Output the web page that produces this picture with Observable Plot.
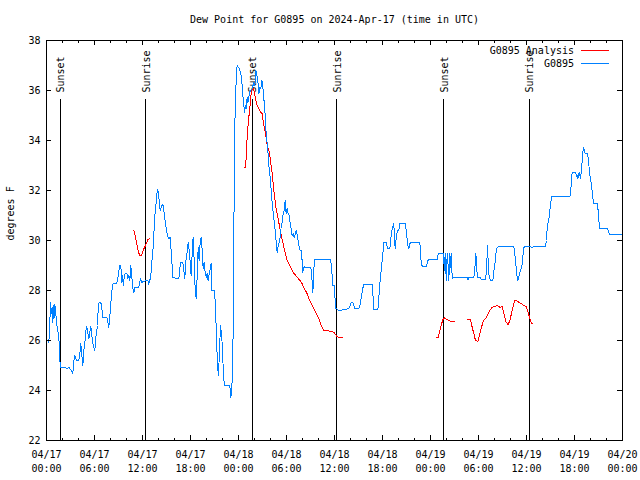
<!DOCTYPE html>
<html><head><meta charset="utf-8">
<script src="https://cdn.jsdelivr.net/npm/d3@7"></script>
<script src="https://cdn.jsdelivr.net/npm/@observablehq/plot@0.6"></script>
<style>
body{margin:0;background:#fff;}
#wrap{position:relative;width:640px;height:480px;font-family:"DejaVu Sans Mono",monospace;font-size:10px;color:#000;}
.lt{position:absolute;right:66px;height:12px;line-height:12px;white-space:pre;}
.ll{position:absolute;left:581px;width:28px;height:0;}
</style></head><body><div id="wrap"></div>
<script>
// Hours since 2024-04-17 00:00 UTC
const obsHours = [0.29,0.375,0.5,0.625,0.71,0.79,0.92,0.96,1.04,1.21,1.33,1.46,1.625,1.67,1.75,2.375,2.5,2.79,3.08,3.29,3.42,3.54,3.75,4.04,4.17,4.29,4.54,4.67,4.79,4.92,5.04,5.29,5.42,5.54,5.79,6.04,6.17,6.375,6.46,6.58,6.79,6.92,7.04,7.54,7.67,7.79,7.875,8.0,8.08,8.21,8.33,8.79,8.92,9.04,9.17,9.29,9.42,9.54,9.58,9.71,9.83,10.04,10.17,10.29,10.42,10.54,10.67,10.79,10.92,11.04,11.54,11.75,11.92,12.42,12.67,12.79,12.875,13.0,13.125,13.25,13.375,13.5,13.67,13.79,13.92,14.08,14.21,14.42,14.54,14.67,14.83,15.0,15.125,15.25,15.46,15.58,15.79,16.25,16.54,16.75,17.04,17.17,17.29,17.42,17.58,17.71,17.83,17.96,18.08,18.21,18.33,18.46,18.58,18.71,18.83,18.96,19.08,19.21,19.33,19.46,19.58,19.71,19.83,19.96,20.08,20.21,20.33,20.46,20.58,20.67,21.0,21.125,21.25,21.375,21.5,21.625,21.75,21.875,22.0,22.125,22.25,22.83,22.96,23.04,23.125,23.25,23.375,23.46,23.58,23.71,23.83,24.125,24.33,24.46,24.58,24.67,24.75,24.875,24.96,25.08,25.17,25.29,25.375,25.71,25.92,26.04,26.17,26.29,26.42,26.54,26.67,26.79,26.92,27.04,27.125,27.25,27.375,27.5,27.625,27.71,27.83,28.0,28.125,28.25,28.375,28.5,28.625,28.75,28.83,28.96,29.08,29.21,29.33,29.46,29.58,29.71,29.83,29.96,30.08,30.21,30.33,30.46,30.58,30.71,30.83,30.96,31.04,31.125,31.25,31.375,31.5,31.625,31.75,31.875,31.96,32.04,32.17,32.29,32.42,33.0,33.125,33.21,33.29,33.375,33.46,33.54,35.5,35.625,35.71,35.79,35.96,36.04,36.17,36.25,36.54,37.79,37.92,38.08,38.29,38.42,38.54,39.04,39.17,39.33,39.5,39.625,40.71,40.83,40.92,41.42,41.54,41.67,41.83,41.96,42.08,42.17,42.5,42.625,42.92,43.04,43.17,43.29,43.42,43.5,43.625,43.71,43.875,44.04,44.17,44.875,45.0,45.17,45.29,45.42,45.58,46.67,46.79,46.96,47.5,47.67,47.79,48.83,48.96,49.58,49.67,49.75,49.83,49.92,50.0,50.08,50.21,50.29,50.42,50.54,50.625,50.71,50.79,50.92,52.58,52.67,52.79,53.42,53.54,53.67,53.79,53.92,54.25,54.375,54.875,55.0,55.125,55.25,55.375,55.58,55.79,55.92,56.04,56.17,56.33,56.54,58.42,58.54,58.67,58.79,58.92,59.04,59.17,59.33,59.46,59.58,59.67,59.875,60.5,60.625,61.125,62.375,62.5,62.58,62.71,62.875,63.0,63.17,65.42,65.54,65.625,65.71,66.125,66.25,66.375,66.46,66.54,66.67,66.75,66.875,67.0,67.125,67.25,67.33,67.625,67.75,67.875,68.0,68.125,68.29,68.375,68.83,68.96,69.04,69.17,70.17,70.25,70.42,72.0];
const obsDewF = [25.93,26.33,27.53,27.07,27.33,26.73,27.4,26.93,27.44,26.93,26.53,26.31,25.8,25.2,24.93,24.93,24.87,24.93,24.8,24.67,25.2,25.4,25.2,25.2,25.47,25.87,25.0,25.6,25.87,26.4,26.56,26.07,26.33,26.56,25.87,25.6,26.13,26.6,27.23,27.53,27.53,27.27,26.93,26.93,26.73,26.53,26.8,27.27,27.67,28.07,28.29,28.29,28.47,28.8,29.0,29.0,28.33,28.6,28.2,28.53,28.69,28.69,28.47,28.6,28.4,29.0,28.53,28.07,27.93,28.13,28.13,28.47,28.33,28.4,28.4,28.24,28.4,28.47,28.93,29.47,29.87,30.87,31.4,31.87,32.03,31.6,31.2,31.4,31.44,31.2,30.8,30.4,30.2,30.07,30.13,29.6,28.53,28.47,28.47,29.13,29.13,28.8,28.47,29.2,29.53,29.93,29.6,29.13,28.6,29.47,30.13,29.2,28.07,27.67,28.53,29.73,29.2,29.93,30.13,29.6,28.87,29.13,28.73,28.53,28.67,28.4,28.67,28.87,29.07,28.0,28.0,27.33,26.13,25.0,24.6,25.6,26.6,26.27,25.67,24.53,24.2,24.2,24.07,23.73,23.93,24.67,27.4,32.27,35.27,36.4,37.0,36.87,36.6,36.2,35.67,35.4,35.13,35.4,35.27,35.73,35.53,35.73,35.93,36.07,36.33,36.2,36.8,36.6,36.4,35.87,36.13,36.07,36.4,36.2,35.67,35.53,34.73,34.07,33.8,33.4,32.87,32.4,31.8,31.4,31.0,30.67,30.27,29.8,29.53,29.8,29.93,30.13,30.53,30.73,31.07,31.2,31.6,31.07,31.27,31.07,31.0,30.67,30.47,30.2,30.27,30.13,30.2,30.33,30.4,30.13,29.93,29.67,29.6,29.6,29.13,28.73,28.91,28.96,28.91,28.91,28.8,28.27,27.93,28.4,29.13,29.23,29.23,29.0,28.53,28.2,28.2,27.8,27.27,27.27,27.2,27.27,27.36,27.53,27.53,27.4,27.27,27.27,27.4,27.67,28.0,28.23,28.23,27.73,27.23,27.23,27.73,28.27,28.8,29.2,29.6,29.93,29.93,29.67,29.67,30.07,30.4,30.53,30.67,29.93,29.67,30.13,30.4,30.4,30.67,30.67,30.27,29.8,29.67,29.87,29.93,29.93,29.27,28.96,28.96,29.2,29.23,29.23,29.47,29.47,29.13,28.8,29.47,28.73,28.4,29.47,29.0,28.4,29.47,28.93,29.47,28.47,28.53,28.51,28.51,28.43,28.51,28.51,28.87,29.47,28.8,28.51,28.51,28.43,28.43,28.8,29.8,28.8,28.47,28.4,28.4,28.8,29.0,29.47,29.73,29.76,29.76,29.47,29.07,28.6,28.4,28.53,28.73,28.87,29.07,29.47,29.73,29.76,29.76,29.73,29.76,29.76,30.0,30.47,30.73,31.0,31.47,31.76,31.76,32.0,32.47,32.73,32.73,32.6,32.47,32.67,32.53,32.73,32.47,32.8,33.4,33.73,33.6,33.47,33.47,33.2,32.73,32.47,32.2,31.73,31.47,31.47,31.2,30.8,30.47,30.47,30.33,30.24,30.24];

// Analysis (NaN separates segments)
const anaHours = [10.92,11.125,11.33,11.5,11.67,11.875,12.0,12.17,12.375,12.54,12.67,12.83,12.92, 18,
  24.79,24.875,25.0,25.08,25.21,25.42,25.58,25.75,25.92,26.125,26.33,26.54,26.75,26.96,27.08,27.25,27.375,27.5,27.625,27.79,27.92,28.04,28.17,28.29,28.42,28.54,28.67,28.83,29.04,29.25,29.46,29.67,29.875,30.08,30.29,30.5,30.71,30.92,31.33,31.75,31.96,32.17,32.375,32.58,32.79,33.0,33.21,33.42,33.625,33.83,34.04,34.25,34.46,34.67,35.08,35.5,35.92,36.125,36.33,36.54,36.96, 42,
  48.71,48.96,49.17,49.33,49.54,49.75,50.0,50.29,50.5,50.96, 51.8,
  52.67,53.0,53.21,53.42,53.625,53.92,54.17,54.375,54.625,54.875,55.125,55.42,55.71,56.0,56.33,56.67,56.96,57.17,57.46,57.71,57.92,58.21,58.5,58.75,59.04,59.375,59.67,59.96,60.21,60.42,60.625,60.79];
const anaDewF = [30.4,30.13,29.8,29.53,29.4,29.4,29.53,29.67,29.8,29.93,30.03,30.07,30.07, NaN,
  32.93,32.93,33.53,34.13,34.67,35.33,35.87,36.13,36.0,35.67,35.4,35.27,35.13,35.07,34.8,34.47,34.27,34.0,33.73,33.6,33.4,33.07,32.8,32.4,32.0,31.67,31.33,31.07,30.73,30.33,30.05,29.73,29.47,29.2,29.07,28.93,28.8,28.69,28.53,28.37,28.27,28.11,28.0,27.87,27.67,27.53,27.4,27.27,27.13,27.0,26.87,26.67,26.53,26.4,26.4,26.37,26.33,26.24,26.16,26.11,26.11, NaN,
  26.11,26.13,26.4,26.6,26.83,26.91,26.85,26.8,26.76,26.76, NaN,
  26.84,26.83,26.53,26.27,26.0,25.96,26.27,26.53,26.8,26.87,27.0,27.2,27.33,27.36,27.4,27.33,27.36,27.07,26.73,26.64,26.8,27.2,27.6,27.6,27.53,27.47,27.4,27.36,27.13,26.87,26.69,26.67];

const sunHours = [1.69, 12.42, 25.71, 36.28, 49.67, 60.33];
const sunLabels = ["Sunset","Sunrise","Sunset","Sunrise","Sunset","Sunrise"];

const xTickHours = [0,6,12,18,24,30,36,42,48,54,60,66,72];
const xTickLabels = ["04/17\n00:00","04/17\n06:00","04/17\n12:00","04/17\n18:00","04/18\n00:00","04/18\n06:00","04/18\n12:00","04/18\n18:00","04/19\n00:00","04/19\n06:00","04/19\n12:00","04/19\n18:00","04/20\n00:00"];
const xMinorHours = d3.range(0, 73, 2);
const yTicks = [22,24,26,28,30,32,34,36,38];

const titleText = "Dew Point for G0895 on 2024-Apr-17 (time in UTC)";
const yLabel = "degrees F";
const seriesNames = ["G0895 Analysis", "G0895"];
const seriesColors = ["#ff0000", "#0080ff"];

const obs = obsHours.map((h, i) => ({h, v: obsDewF[i]}));
const ana = anaHours.map((h, i) => ({h, v: anaDewF[i]}));
const sun = sunHours.map((h, i) => ({h, label: sunLabels[i]}));

const W = 640, H = 480, mL = 46, mR = 18, mT = 40, mB = 40;
const fw = W - mL - mR, fh = H - mT - mB;
const crisp = {shapeRendering: "crispEdges"};

const chart = Plot.plot({
  width: W, height: H,
  marginLeft: mL, marginRight: mR, marginTop: mT, marginBottom: mB,
  style: {fontFamily: "DejaVu Sans Mono, monospace", fontSize: "10px", background: "white", color: "black"},
  x: {type: "linear", domain: [0, 72]},
  y: {domain: [22, 38]},
  marks: [
    Plot.ruleX(sun, {x: "h", insetTop: 59, stroke: "black", strokeWidth: 1, ...crisp}),
    Plot.text(sun, {x: "h", text: "label", frameAnchor: "top", dy: 52, dx: 1, rotate: -90, textAnchor: "start", lineAnchor: "middle", fill: "black"}),
    Plot.line(ana, {x: "h", y: "v", stroke: seriesColors[0], strokeWidth: 1, ...crisp}),
    Plot.line(obs, {x: "h", y: "v", stroke: seriesColors[1], strokeWidth: 1, ...crisp}),
    // inward tick marks
    Plot.ruleX(xMinorHours, {x: d => d, insetTop: fh - 2.5, stroke: "black", ...crisp}),
    Plot.ruleX(xMinorHours, {x: d => d, insetBottom: fh - 2.5, stroke: "black", ...crisp}),
    Plot.ruleX(xTickHours, {x: d => d, insetTop: fh - 5, stroke: "black", ...crisp}),
    Plot.ruleX(xTickHours, {x: d => d, insetBottom: fh - 5, stroke: "black", ...crisp}),
    Plot.ruleY(yTicks, {y: d => d, insetRight: fw - 5, stroke: "black", ...crisp}),
    Plot.ruleY(yTicks, {y: d => d, insetLeft: fw - 5, stroke: "black", ...crisp}),
    Plot.frame({stroke: "black", strokeWidth: 1, ...crisp}),
    Plot.axisX({ticks: xTickHours, tickFormat: (d) => xTickLabels[xTickHours.indexOf(d)], tickSize: 0, tickPadding: 8, lineHeight: 1.4, label: null, fill: "black"}),
    Plot.axisY({ticks: yTicks, tickFormat: d => String(d), tickSize: 0, tickPadding: 6, label: null, fill: "black"}),
    Plot.text([titleText], {frameAnchor: "top", dy: -21, fill: "black", lineAnchor: "middle"}),
    Plot.text([yLabel], {frameAnchor: "left", dx: -36, rotate: -90, fill: "black", lineAnchor: "middle"})
  ]
});

const wrap = document.getElementById("wrap");
wrap.appendChild(chart);
seriesNames.forEach((name, i) => {
  const t = document.createElement("div");
  t.className = "lt"; t.textContent = name; t.style.top = (45 + 13 * i) + "px";
  wrap.appendChild(t);
  const l = document.createElement("div");
  l.className = "ll"; l.style.top = (50 + 13 * i) + "px"; l.style.borderTop = "1px solid " + seriesColors[i];
  wrap.appendChild(l);
});
</script></body></html>
